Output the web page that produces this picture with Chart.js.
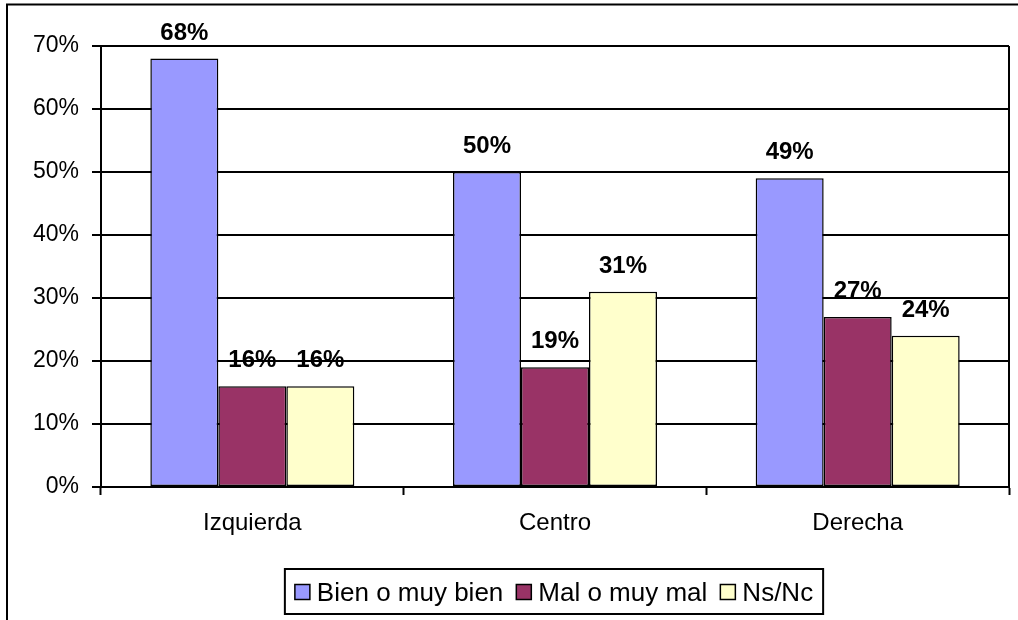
<!DOCTYPE html>
<html>
<head>
<meta charset="utf-8">
<script src="https://cdn.jsdelivr.net/npm/chart.js@4"></script>
<style>
html,body{margin:0;padding:0;background:#fff;}
canvas{display:block;}
</style>
</head>
<body>
<canvas id="c" width="1018" height="620"></canvas>
<script>
const categories = ['Izquierda', 'Centro', 'Derecha'];
const seriesNames = ['Bien o muy bien', 'Mal o muy mal', 'Ns/Nc'];
const bien = [68, 50, 49];
const mal = [16, 19, 27];
const nsnc = [16, 31, 24];
const yTicks = [0, 10, 20, 30, 40, 50, 60, 70];

const FONT = '"Liberation Sans", Arial, sans-serif';
const colors = ['#9999FF', '#993366', '#FFFFCC'];

const frame = {
  id: 'frame',
  beforeDraw(chart) {
    const ctx = chart.ctx;
    ctx.save();
    ctx.fillStyle = '#fff';
    ctx.fillRect(0, 0, chart.width, chart.height);
    ctx.restore();
  },
  afterDraw(chart) {
    const ctx = chart.ctx, a = chart.chartArea;
    ctx.save();
    ctx.strokeStyle = '#000';
    ctx.lineWidth = 2;
    // outer border (cropped at right/bottom)
    ctx.strokeRect(7, 4.5, 1100, 700);
    // plot right border
    ctx.beginPath();
    ctx.moveTo(a.right, a.top);
    ctx.lineTo(a.right, a.bottom);
    ctx.stroke();
    // legend
    ctx.font = '26px ' + FONT;
    ctx.textBaseline = 'middle';
    const sw = 15, gapText = 7, gapItem = 13, padX = 10;
    const items = chart.data.datasets.map(d => ({label: d.label, color: d.backgroundColor, w: ctx.measureText(d.label).width}));
    let total = padX * 2;
    items.forEach((it, i) => { total += sw + gapText + it.w + (i < items.length - 1 ? gapItem : 0); });
    const cx = 554, top = 569, h = 45;
    let x = cx - total / 2;
    ctx.lineWidth = 2;
    ctx.strokeRect(x, top, total, h);
    x += padX;
    const my = top + h / 2;
    items.forEach(it => {
      ctx.fillStyle = it.color;
      ctx.fillRect(x, my - 7, sw, sw);
      ctx.lineWidth = 1.5;
      ctx.strokeRect(x, my - 7, sw, sw);
      x += sw + gapText;
      ctx.fillStyle = '#000';
      ctx.textAlign = 'left';
      ctx.fillText(it.label, x, my + 2);
      x += it.w + gapItem;
    });
    ctx.restore();
  }
};

const valueLabels = {
  id: 'valueLabels',
  afterDatasetsDraw(chart) {
    const ctx = chart.ctx;
    ctx.save();
    ctx.font = 'bold 24px ' + FONT;
    ctx.fillStyle = '#000';
    ctx.textAlign = 'center';
    ctx.textBaseline = 'alphabetic';
    chart.data.datasets.forEach((ds, di) => {
      chart.getDatasetMeta(di).data.forEach((bar, i) => {
        ctx.fillText(ds.data[i] + '%', bar.x, bar.y - 19);
      });
    });
    ctx.restore();
  }
};

new Chart(document.getElementById('c'), {
  type: 'bar',
  data: {
    labels: categories,
    datasets: [
      {label: seriesNames[0], data: bien, backgroundColor: colors[0]},
      {label: seriesNames[1], data: mal, backgroundColor: colors[1]},
      {label: seriesNames[2], data: nsnc, backgroundColor: colors[2]}
    ].map(d => Object.assign(d, {borderColor: '#000', borderWidth: 1.5, borderSkipped: false}))
  },
  options: {
    responsive: false,
    animation: false,
    datasets: {bar: {categoryPercentage: 0.674, barPercentage: 1}},
    layout: {padding: {left: 0, top: 46, right: 9, bottom: 0}},
    plugins: {legend: {display: false}, tooltip: {enabled: false}},
    scales: {
      x: {
        afterFit(s) { s.height = 133; },
        grid: {display: true, drawOnChartArea: false, offset: true, tickLength: 8, tickColor: '#000', tickWidth: 2},
        border: {display: true, color: '#000', width: 2},
        ticks: {color: '#000', font: {family: FONT, size: 24}, padding: 14}
      },
      y: {
        min: 0, max: 70,
        afterFit(s) { s.width = 101; },
        afterBuildTicks(s) { s.ticks = yTicks.map(v => ({value: v})); },
        grid: {color: '#000', lineWidth: 2, tickLength: 9, tickColor: '#000', tickWidth: 2},
        border: {display: true, color: '#000', width: 2},
        ticks: {color: '#000', font: {family: FONT, size: 23}, padding: 13, callback: v => v + '%'}
      }
    }
  },
  plugins: [frame, valueLabels]
});
</script>
</body>
</html>
